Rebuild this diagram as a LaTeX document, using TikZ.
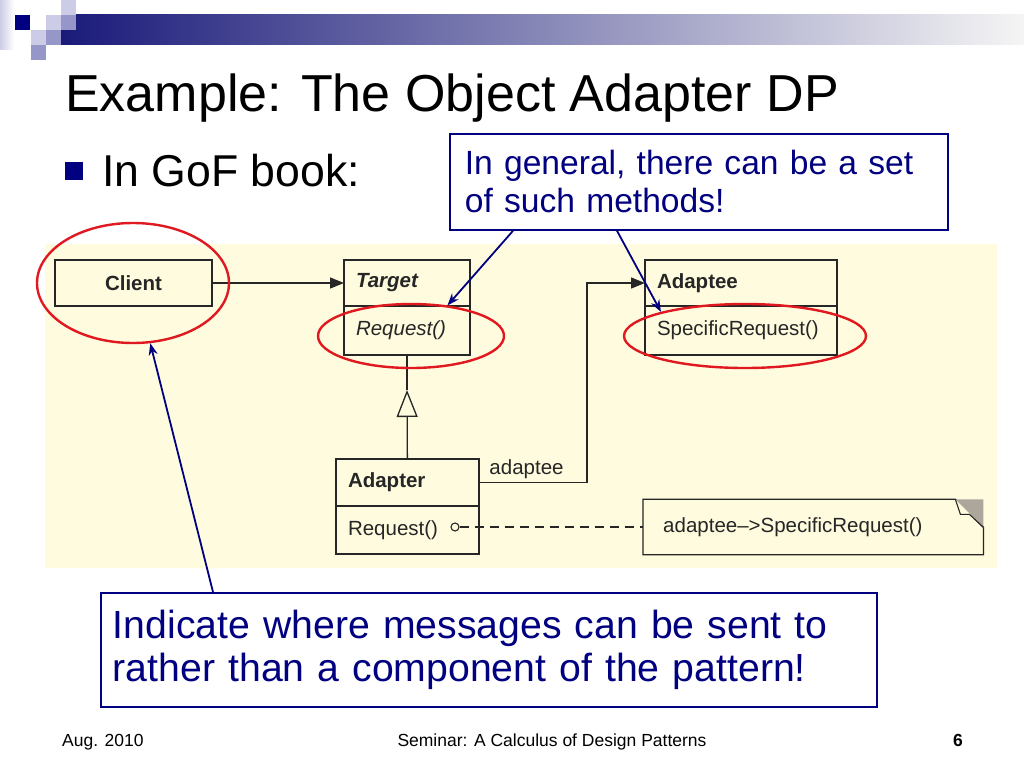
\documentclass[tikz,border=0pt]{standalone}
\usepackage{fontspec}
\setmainfont{Liberation Sans}
\usetikzlibrary{positioning, shapes.geometric, arrows.meta, calc}

\definecolor{slidenavy}{RGB}{0,0,128}
\definecolor{barnavy}{RGB}{26,26,122}
\definecolor{lavlight}{RGB}{204,204,230}
\definecolor{lavmid}{RGB}{150,150,200}
\definecolor{umlpaper}{RGB}{255,251,222}
\definecolor{umlink}{RGB}{38,38,38}
\definecolor{markred}{RGB}{224,24,32}
\definecolor{foldgray}{RGB}{172,166,156}

\newcommand{\pxfont}[2]{\fontsize{#1}{#2}\selectfont}

\begin{document}
\begin{tikzpicture}[
    x=1pt, y=-1pt,
    >={Triangle[length=14pt, width=11pt]},
    % Styles
    clsbase/.style={rectangle, draw=umlink, line width=1.3pt, fill=umlpaper, text=umlink, outer sep=0pt, inner xsep=12pt, inner ysep=0pt, align=left, font=\pxfont{20.5}{24}},
    clsname/.style={clsbase, minimum height=46pt, font=\pxfont{20.5}{24}\bfseries},
    clsop/.style={clsbase, minimum height=49pt},
    umlline/.style={draw=umlink, line width=1.3pt},
    markring/.style={ellipse, draw=markred, line width=2.4pt, inner sep=0pt},
    pointer/.style={draw=slidenavy, line width=1.8pt, -{Stealth[length=12pt, width=9pt]}},
    callout/.style={rectangle, draw=slidenavy, line width=1.8pt, fill=white, text=slidenavy, align=left, anchor=north west}
]
    \useasboundingbox (0,0) rectangle (1024,768);

    % --- Slide header ---
    \shade[left color=lavlight, right color=white] (0,0) rectangle (14,50);
    \shade[left color=barnavy, right color=white!96!black] (61,15) rectangle (1024,45);
    \fill[slidenavy] (15,15) rectangle (30,30);
    \fill[lavlight] (46,15) rectangle (61,30);
    \fill[lavlight] (61,0) rectangle (76,15);
    \fill[lavmid] (61,15) rectangle (76,30);
    \fill[lavlight] (31,30) rectangle (46,45);
    \fill[lavmid] (46,30) rectangle (61,45);
    \fill[lavmid] (31,45) rectangle (46,60);

    \node [anchor=base west, inner sep=0pt, font=\pxfont{52}{60}] (title) at (65,111) {Example: The Object Adapter DP};
    \node [fill=slidenavy, inner sep=0pt, minimum size=18pt] (bullet) at (74,171) {};
    \node [anchor=base west, inner sep=0pt, font=\pxfont{44.6}{50}] (gof) at (102,186) {In GoF book:};

    % --- UML panel ---
    \fill[umlpaper] (45,244) rectangle (997,568);

    \node [clsname, anchor=north west, text width=133pt, align=center] (client) at (55,260) {Client};
    \node [clsname, anchor=north west, text width=102pt] (target) at (344,260) {\itshape Target};
    \node [clsop, below=0pt of target, text width=102pt] (targetop) {\itshape Request()};
    \node [clsname, anchor=north west, text width=168pt] (adaptee) at (645,260) {Adaptee};
    \node [clsop, below=0pt of adaptee, text width=168pt] (adapteeop) {SpecificRequest()};
    \node [clsname, anchor=north west, minimum height=47pt, text width=119pt] (adapter) at (336,459) {Adapter};
    \node [clsop, below=0pt of adapter, minimum height=48pt, text width=119pt] (adapterop) {Request()};

    \node [anchor=west, text=umlink, inner xsep=20pt, text width=300pt, align=left, minimum height=55pt, font=\pxfont{20.5}{24}] (note) at (643,527) {adaptee--{}>SpecificRequest()};
    \draw [umlline] (note.north west) -- ($(note.north east)+(-28,0)$) -- ($(note.north east)+(0,28)$) -- (note.south east) -- (note.south west) -- cycle;
    \fill [foldgray] ($(note.north east)+(-28,0)$) -- (note.north east) -- ($(note.north east)+(0,28)$) -- cycle;
    \draw [umlink, line width=1.1pt, fill=umlpaper] ($(note.north east)+(-28,0)$) -- ($(note.north east)+(-23,15)$) -- ($(note.north east)+(-14,15)$) -- ($(note.north east)+(0,28)$);

    \node [circle, draw=umlink, line width=1.1pt, fill=umlpaper, inner sep=0pt, minimum size=8pt] (reqdot) at (455,527) {};
    \coordinate (gentip) at (407,390);
    \coordinate (assocbend) at (587,0);

    % --- UML connectors ---
    \draw [umlline, ->] (client) -- (target);
    \draw [umlline] (targetop) -- (gentip);
    \draw [umlline, -{Triangle[open, length=27pt, width=21pt]}] (adapter) -- (gentip);
    \draw [umlline, ->] (adapter.east) -| (assocbend |- adaptee.west)
        node [pos=0.22, above, text=umlink, font=\pxfont{20.5}{24}] {adaptee} -- (adaptee.west);
    \draw [umlline, dash pattern=on 9pt off 6pt] (reqdot) -- (note.west);

    % --- Red marks ---
    \node [markring, minimum width=192pt, minimum height=120pt] (clientring) at (133,283) {};
    \node [markring, minimum width=186pt, minimum height=64pt] (targetring) at (411,336) {};
    \node [markring, minimum width=242pt, minimum height=64pt] (adapteering) at (745,336) {};

    % --- Callouts ---
    \node [callout, minimum width=498pt, minimum height=96pt, inner xsep=15pt, text width=468pt, font=\pxfont{33.6}{38}] (setnote) at (449,133) {In general, there can be a set\\of such methods!};
    \node [callout, minimum width=776pt, minimum height=114pt, inner xsep=12pt, text width=752pt, font=\pxfont{39.2}{43}] (msgnote) at (100,592) {Indicate where messages can be sent to\\rather than a component of the pattern!};

    \draw [pointer] ($(setnote.south west)+(64,0)$) -- (targetring.40);
    \draw [pointer] ($(setnote.south west)+(168,0)$) -- (adapteering.164);
    \draw [pointer] ($(msgnote.north west)+(113,0)$) -- (clientring.-74);

    % --- Footer ---
    \node [anchor=base west, inner sep=0pt, font=\pxfont{17.5}{20}] (date) at (62,746) {Aug. 2010};
    \node [anchor=base, inner sep=0pt, font=\pxfont{17.5}{20}] (seminar) at (552,746) {Seminar: A Calculus of Design Patterns};
    \node [anchor=base west, inner sep=0pt, font=\pxfont{17.5}{20}\bfseries] (pageno) at (953,746) {6};
\end{tikzpicture}
\end{document}
